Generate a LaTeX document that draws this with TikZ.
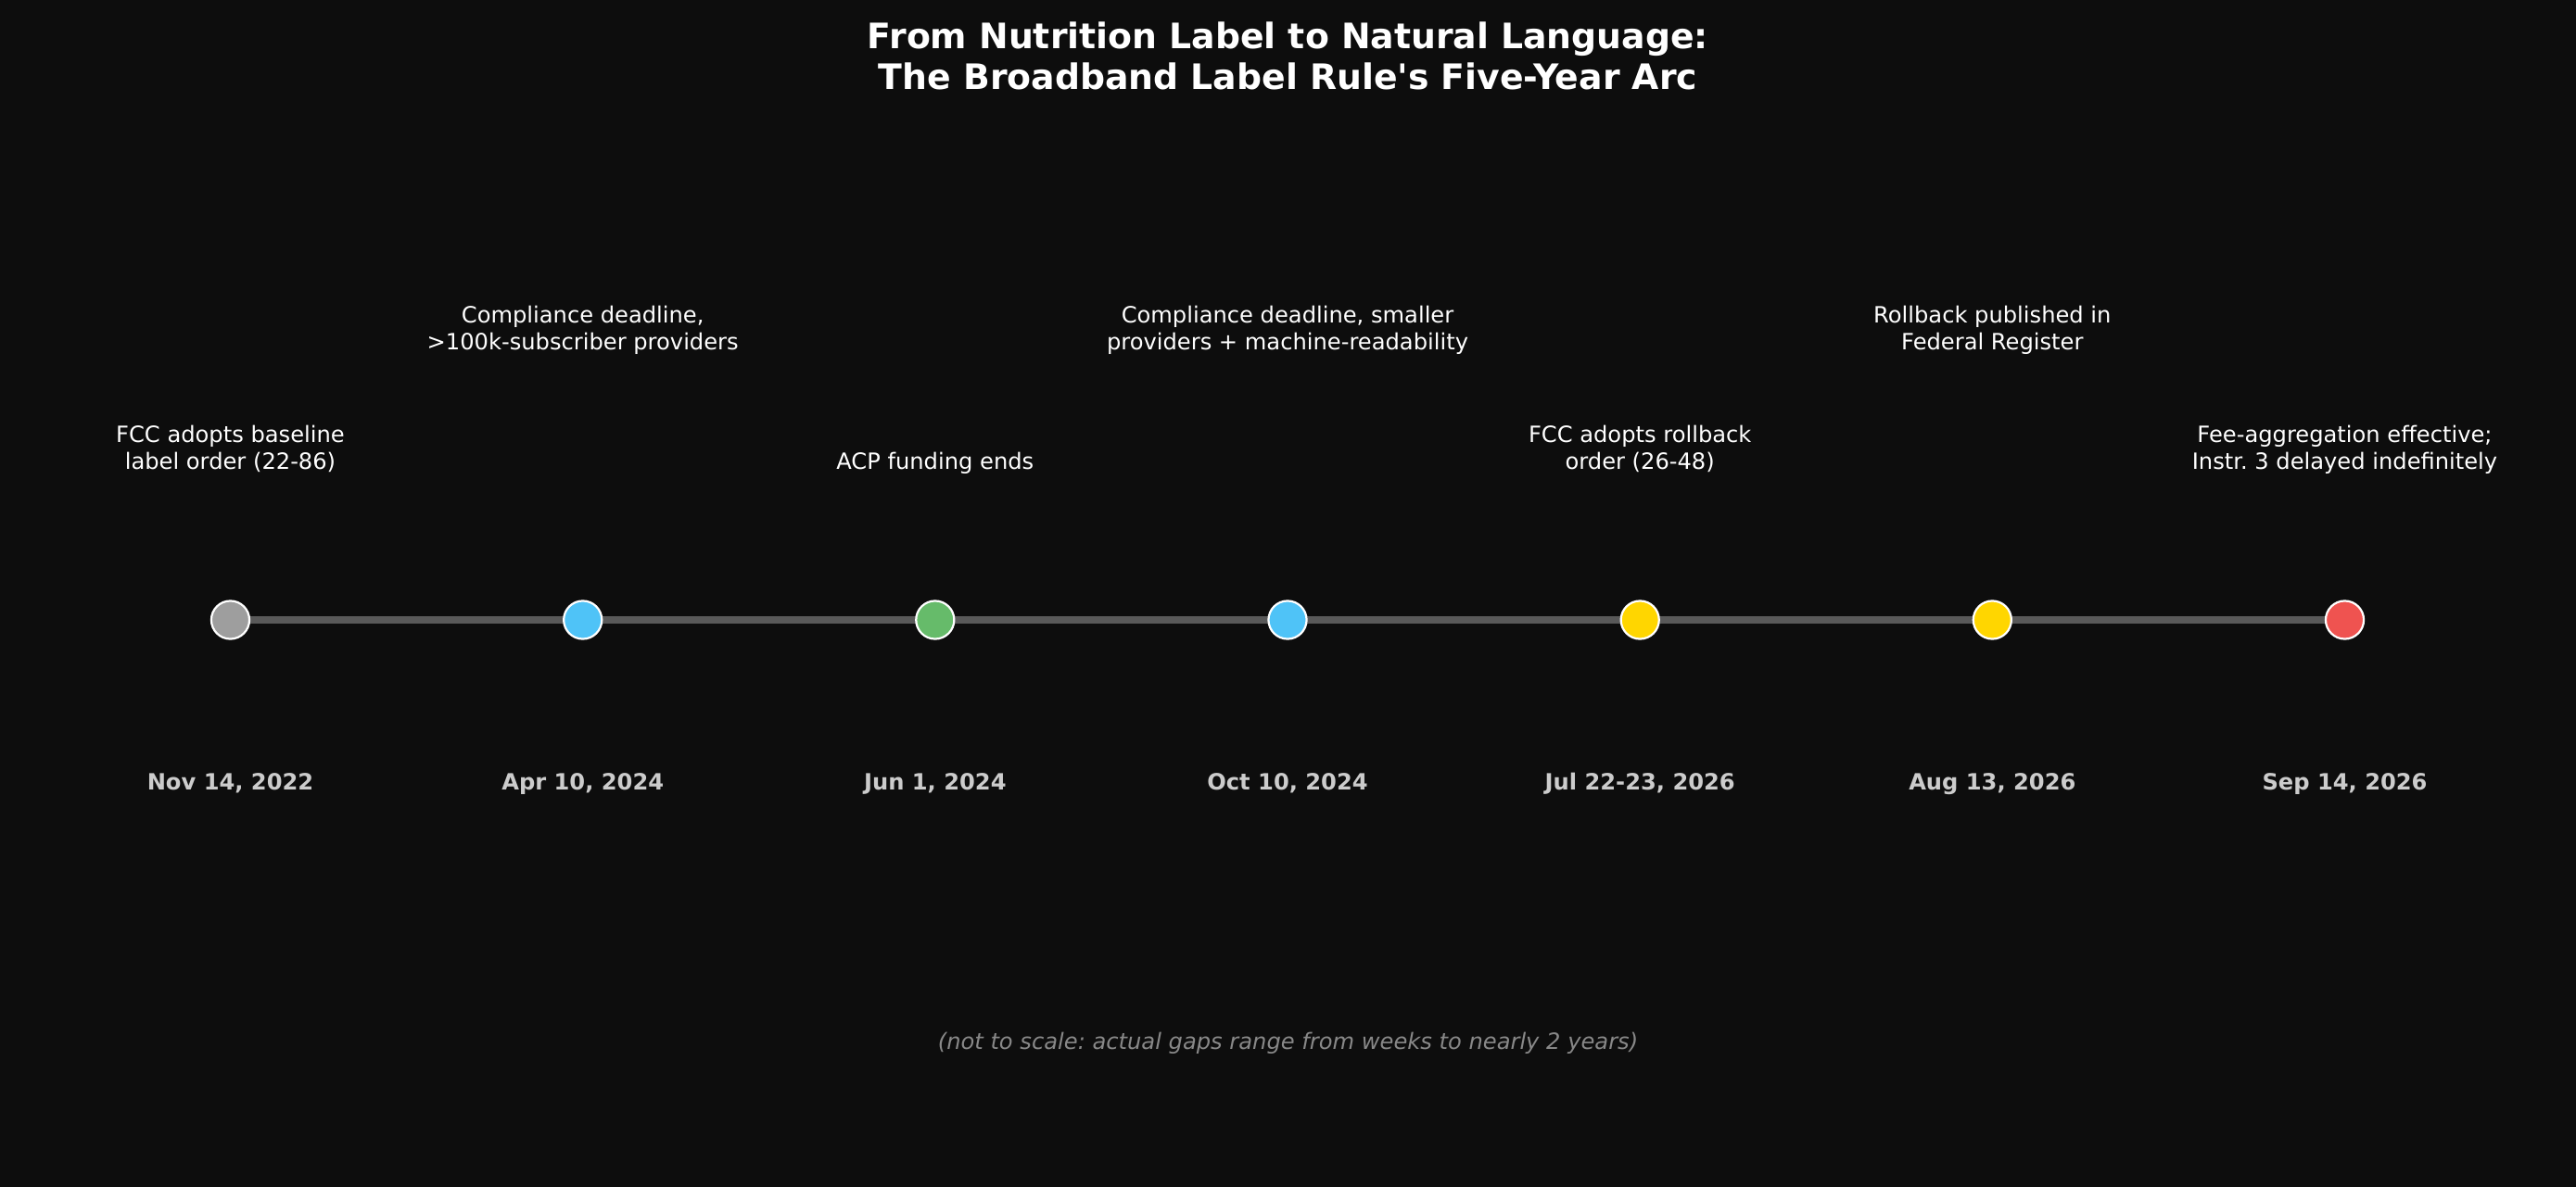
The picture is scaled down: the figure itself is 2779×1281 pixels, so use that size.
\documentclass[tikz,border=0pt]{standalone}
\usepackage{fontspec}
\setmainfont{DejaVu Sans}
\usetikzlibrary{backgrounds}
\frenchspacing
\definecolor{bgcol}{HTML}{0D0D0D}
\definecolor{railcol}{HTML}{595959}
\definecolor{datecol}{HTML}{CCCCCC}
\definecolor{notecol}{HTML}{888888}
\definecolor{greycol}{HTML}{9E9E9E}
\definecolor{bluecol}{HTML}{4FC3F7}
\definecolor{greencol}{HTML}{66BB6A}
\definecolor{yellowcol}{HTML}{FFD600}
\definecolor{redcol}{HTML}{EF5350}
\tikzset{
  mark dot/.style={circle,draw=white,line width=0.8bp,minimum size=14.8bp,inner sep=0pt},
  event text/.style={anchor=south,inner sep=0pt,text depth=2.05bp,align=center,text=white,
    font=\fontsize{8.7bp}{10.5bp}\selectfont},
  date text/.style={anchor=base,inner sep=0pt,text=datecol,font=\fontsize{8.7bp}{10.5bp}\selectfont\bfseries},
}
\begin{document}
\begin{tikzpicture}[x=0.36bp,y=-0.36bp]
  \begin{pgfonlayer}{background}
  \fill[bgcol] (0,0) rectangle (2779,1281);
  \end{pgfonlayer}
  \useasboundingbox (0,0) rectangle (2779,1281);
%%
  % Title
  \node (title) [anchor=south,inner sep=0pt,text depth=3.2bp,align=center,text=white,
    font=\fontsize{13.6bp}{15.9bp}\selectfont\bfseries] at (1389.5,106)
    {From Nutrition Label to Natural Language:\\The Broadband Label Rule\textquotesingle s Five-Year Arc};
  % Node: Nov 14, 2022
  \node (m1) [mark dot,fill=greycol] at (248.5,669) {};
  \node (d1) [date text] at (248.5,852) {Nov 14, 2022};
  \node (e1) [event text] at (248.5,513) {FCC adopts baseline\\label order (22-86)};
  % Node: Apr 10, 2024
  \node (m2) [mark dot,fill=bluecol] at (628.7,669) {};
  \node (d2) [date text] at (628.7,852) {Apr 10, 2024};
  \node (e2) [event text] at (628.7,384) {Compliance deadline,\\>100k-subscriber providers};
  % Node: Jun 1, 2024
  \node (m3) [mark dot,fill=greencol] at (1008.8,669) {};
  \node (d3) [date text] at (1008.8,852) {Jun 1, 2024};
  \node (e3) [event text] at (1008.8,513) {ACP funding ends};
  % Node: Oct 10, 2024
  \node (m4) [mark dot,fill=bluecol] at (1389,669) {};
  \node (d4) [date text] at (1389,852) {Oct 10, 2024};
  \node (e4) [event text] at (1389,384) {Compliance deadline, smaller\\providers + machine-readability};
  % Node: Jul 22-23, 2026
  \node (m5) [mark dot,fill=yellowcol] at (1769.2,669) {};
  \node (d5) [date text] at (1769.2,852) {Jul 22-23, 2026};
  \node (e5) [event text] at (1769.2,513) {FCC adopts rollback\\order (26-48)};
  % Node: Aug 13, 2026
  \node (m6) [mark dot,fill=yellowcol] at (2149.3,669) {};
  \node (d6) [date text] at (2149.3,852) {Aug 13, 2026};
  \node (e6) [event text] at (2149.3,384) {Rollback published in\\Federal Register};
  % Node: Sep 14, 2026
  \node (m7) [mark dot,fill=redcol] at (2529.5,669) {};
  \node (d7) [date text] at (2529.5,852) {Sep 14, 2026};
  \node (e7) [event text] at (2529.5,513) {Fee-aggregation effective;\\Instr. 3 delayed indefinitely};
  % Edge: rail behind the dots
  \begin{pgfonlayer}{background}
  \draw[railcol,line width=2.6bp] (m1.center) -- (m7.center);
  \end{pgfonlayer}
  % Footnote
  \node (note) [anchor=base,inner sep=0pt,text=notecol,font=\fontsize{8.7bp}{10.5bp}\selectfont\itshape]
    at (1389.5,1132) {(not to scale: actual gaps range from weeks to nearly 2 years)};
%
\end{tikzpicture}
\end{document}
